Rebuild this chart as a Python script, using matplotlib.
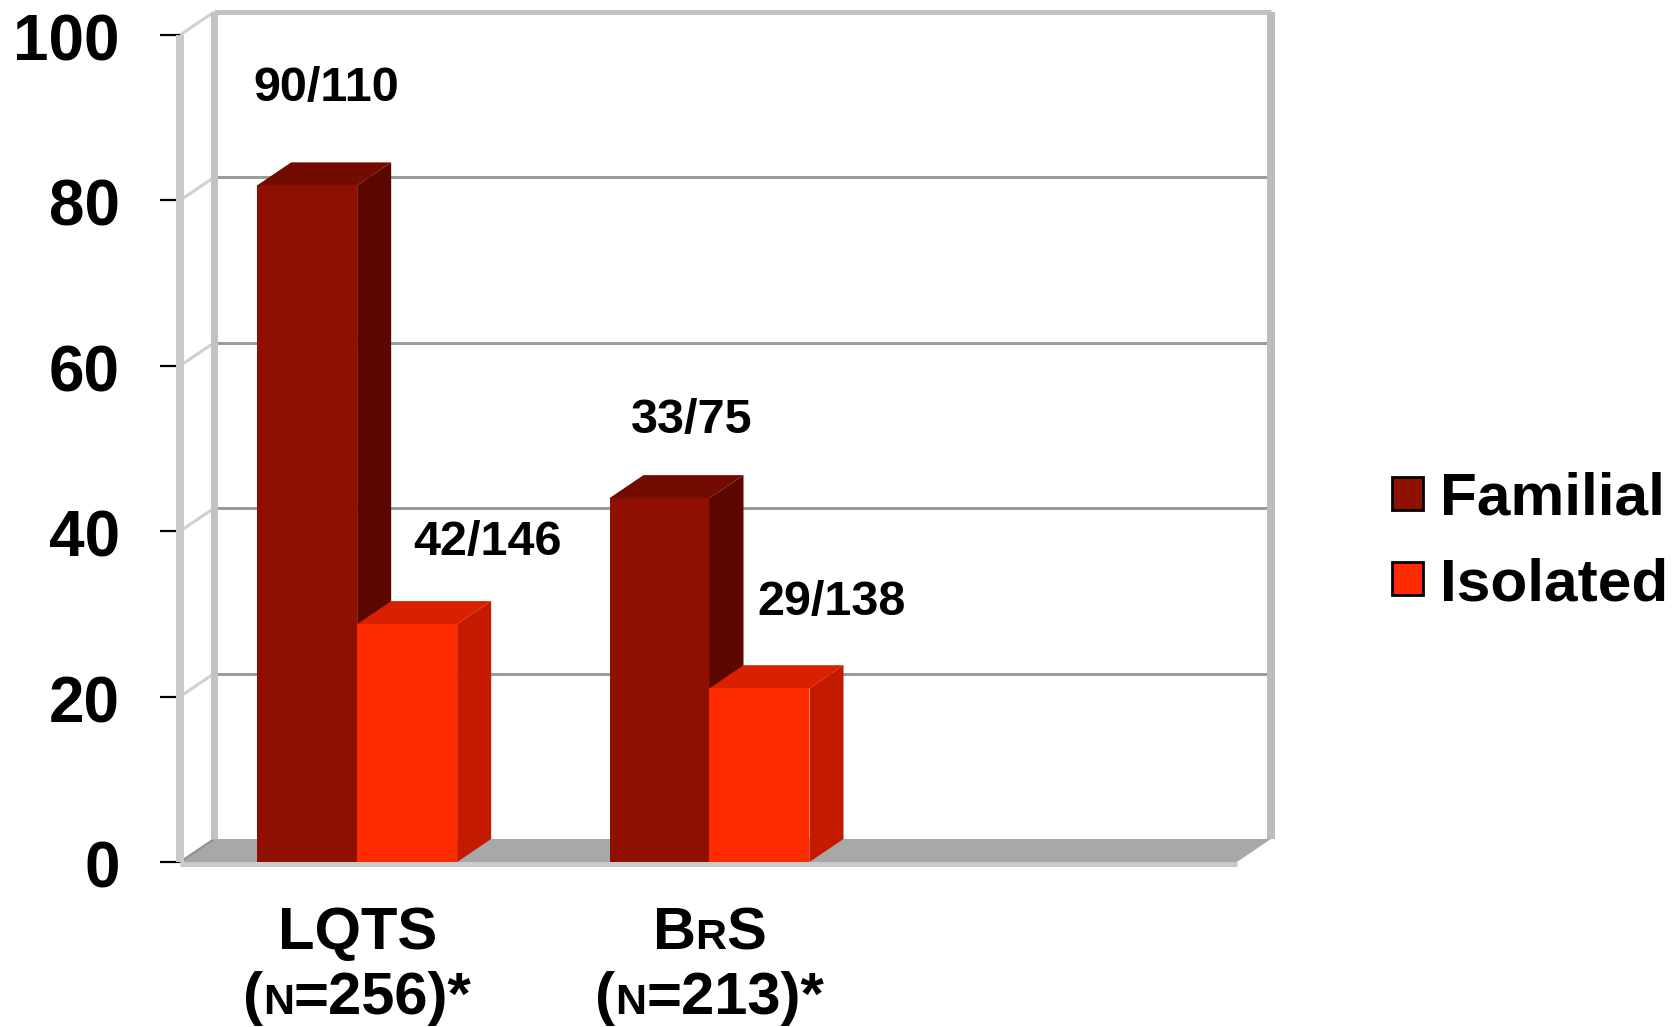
import matplotlib
matplotlib.use("Agg")
import matplotlib.pyplot as plt
from matplotlib.offsetbox import AnnotationBbox, HPacker, TextArea, VPacker
from matplotlib.patches import Patch, Polygon
from matplotlib.transforms import ScaledTranslation

categories = ["LQTS", "BrS"]
sizes = [256, 213]
series_names = ["Familial", "Isolated"]
familial_counts = [(90, 110), (33, 75)]
isolated_counts = [(42, 146), (29, 138)]
y_ticks = [0, 20, 40, 60, 80, 100]

W, H = 1677, 1027
plt.rcParams["font.family"] = ["Liberation Sans", "DejaVu Sans"]
plt.rcParams["font.weight"] = "bold"

fig = plt.figure(figsize=(W / 100, H / 100), dpi=100, facecolor="white")
left, right, top, bottom = 180, 1237, 35, 862
ax = fig.add_axes([left / W, 1 - bottom / H, (right - left) / W, (bottom - top) / H])
ax.set_xlim(-0.5, 2.5)
ax.set_ylim(0, 100)
ax.patch.set_alpha(0)
for spine in ax.spines.values():
    spine.set_visible(False)

# Oblique depth of the box, in data units
UNIT = (right - left) / 3
DX = 34 / UNIT
DY = 23 / ((bottom - top) / 100)
X0, X1 = -0.5, 2.5


def px(width):
    return width * 0.72


def line(xs, ys, color, width, z):
    ax.plot(xs, ys, color=color, lw=px(width), solid_capstyle="butt", clip_on=False, zorder=z)


# Floor of the box
ax.add_patch(Polygon([(X0, 0), (X1, 0), (X1 + DX, DY), (X0 + DX, DY)],
                     closed=True, fc="#a8a8a8", ec="none", clip_on=False, zorder=1))
line([X0, X1], [-0.25, -0.25], "#c9c9c9", 5, 1.2)

# Gridlines on the back wall, with their diagonals on the left wall
for tick in y_ticks[1:-1]:
    line([X0 + DX, X1 + DX], [tick + DY, tick + DY], "#9c9c9c", 3, 1.5)
    line([X0, X0 + DX], [tick, tick + DY], "#cfcfcf", 3, 1.5)
line([X0, X0 + DX], [100, 100 + DY], "#cfcfcf", 3, 1.5)
line([X0, X0 + DX], [0, DY], "#8f8f8f", 2, 1.5)

# Edges of the box
line([X0 + DX, X1 + DX], [100 + DY, 100 + DY], "#c2c2c2", 5, 1.6)
line([X0 + DX, X0 + DX], [DY, 100 + DY], "#c2c2c2", 7, 1.6)
line([X1 + DX, X1 + DX], [DY, 100 + DY], "#bcbcbc", 8, 1.6)
line([X0, X0], [0, 100], "#c9c9c9", 8, 1.6)

BAR_W = 100 / UNIT
GROUP_SHIFT = 1 / UNIT


def bar_3d(center, value, front, shade_top, shade_side, z):
    ax.bar(center, value, BAR_W, color=front, linewidth=0, zorder=z, clip_on=False)
    l, r = center - BAR_W / 2, center + BAR_W / 2
    ax.add_patch(Polygon([(l, value), (r, value), (r + DX, value + DY), (l + DX, value + DY)],
                         closed=True, fc=shade_top, ec="none", clip_on=False, zorder=z))
    ax.add_patch(Polygon([(r, 0), (r + DX, DY), (r + DX, value + DY), (r, value)],
                         closed=True, fc=shade_side, ec="none", clip_on=False, zorder=z))


FAM_COLOR = "#8f1000"
ISO_COLOR = "#ff2a00"
for i in range(len(categories)):
    fam = 100 * familial_counts[i][0] / familial_counts[i][1]
    iso = 100 * isolated_counts[i][0] / isolated_counts[i][1]
    c = i + GROUP_SHIFT
    bar_3d(c - BAR_W / 2, fam, FAM_COLOR, "#730b00", "#5c0600", 3 + i)
    bar_3d(c + BAR_W / 2, iso, ISO_COLOR, "#d92000", "#c41a00", 3.5 + i)

# Count labels above the bars
label_offsets = [(326, 88), (488, 542), (692, 420), (832, 603)]
label_texts = [f"{a}/{b}" for pair in zip(familial_counts, isolated_counts) for a, b in pair]
for (x, y), txt in zip(label_offsets, label_texts):
    fig.text(x / W, 1 - y / H, txt, fontsize=35, ha="center", va="center", zorder=10)

# Value axis
ax.set_yticks(y_ticks)
ax.tick_params(axis="y", length=14.4, width=1.6, color="black", pad=29, labelsize=46)
ax.set_xticks([])
shift_down = ScaledTranslation(0, -2 / 100, fig.dpi_scale_trans)
for lab in ax.get_yticklabels():
    lab.set_transform(lab.get_transform() + shift_down)


def small_caps(parts):
    boxes = [TextArea(t, textprops=dict(fontsize=s, fontweight="bold", color="black"))
             for t, s in parts]
    return HPacker(children=boxes, align="baseline", pad=0, sep=0)


BIG, SMALL = 43, 31
name_parts = [[("LQTS", BIG)], [("B", BIG), ("R", SMALL), ("S", BIG)]]
for i in range(len(categories)):
    first = small_caps(name_parts[i])
    second = small_caps([("(", BIG), ("N", SMALL), (f"={sizes[i]})*", BIG)])
    stack = VPacker(children=[first, second], align="center", pad=0, sep=7)
    box = AnnotationBbox(stack, (i + GROUP_SHIFT, 0), xybox=(0, -32), xycoords="data",
                         boxcoords="offset points", box_alignment=(0.5, 1),
                         frameon=False, annotation_clip=False)
    ax.add_artist(box)

# Legend
handles = [Patch(fc=FAM_COLOR, ec="black", lw=2), Patch(fc=ISO_COLOR, ec="black", lw=2)]
fig.legend(handles, series_names, loc="upper left",
           bbox_to_anchor=(1392 / W, 1 - 472 / H), frameon=False, fontsize=43.5,
           handlelength=0.52, handleheight=0.45, handletextpad=0.27,
           labelspacing=0.5, borderpad=0, borderaxespad=0)

fig.savefig("out.png", dpi=100)
